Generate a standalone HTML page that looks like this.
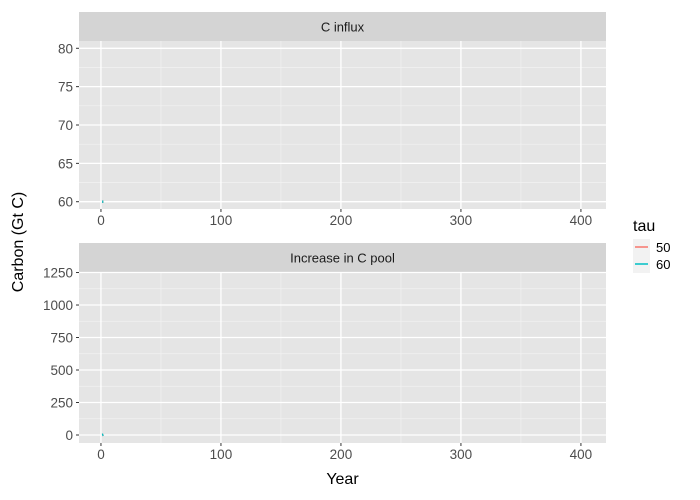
<!DOCTYPE html>
<html><head><meta charset="utf-8"><style>
body{margin:0;background:#fff;}
svg{display:block;font-family:"Liberation Sans",Arial,sans-serif;}
</style></head><body>
<svg id="chart" width="700" height="500"></svg>
<script>
const years=[1,2];
const influxTau50=[60,60];
const influxTau60=[60,60];
const poolTau50=[0,3];
const poolTau60=[0,3];
const xTicks=[0,100,200,300,400];
const yTicksTop=[60,65,70,75,80];
const yTicksBot=[0,250,500,750,1000,1250];
const seriesNames=["50","60"];
const colors=["#F8766D","#00BFC4"];

const NS="http://www.w3.org/2000/svg";
const svg=document.getElementById('chart');
function el(t,a,p){const e=document.createElementNS(NS,t);for(const k in a)e.setAttribute(k,a[k]);(p||svg).appendChild(e);return e;}
const X0=79,X1=606;
const xMin=-18.3,xMax=420.9;
const sx=v=>X0+(v-xMin)/(xMax-xMin)*(X1-X0);

const panels=[
 {title:"C influx",sy:12,top:41,bot:209,min:59.05,max:80.95,ticks:yTicksTop,series:[influxTau50,influxTau60],name:"c-influx"},
 {title:"Increase in C pool",sy:243,top:272,bot:443,min:-61.5,max:1254,ticks:yTicksBot,series:[poolTau50,poolTau60],name:"c-pool"}
];
panels.forEach(p=>{
 const g=el('g',{});
 
 
 const sy=v=>p.bot-(v-p.min)/(p.max-p.min)*(p.bot-p.top);
 const strip=el('rect',{x:X0,y:p.sy,width:X1-X0,height:p.top-p.sy,fill:'#D4D4D4'},g);
 
 
 const st=el('text',{x:(X0+X1)/2,y:(p.sy+p.top)/2+5,'text-anchor':'middle','font-size':13,fill:'#1a1a1a'},g);
 st.textContent=p.title;
 
 
 el('rect',{x:X0,y:p.top,width:X1-X0,height:p.bot-p.top,fill:'#E5E5E5'},g);
 for(let i=0;i<p.ticks.length-1;i++){const m=(p.ticks[i]+p.ticks[i+1])/2;el('line',{x1:X0,x2:X1,y1:sy(m),y2:sy(m),stroke:'#f2f2f2','stroke-width':0.7},g);}
 for(let i=0;i<xTicks.length-1;i++){const m=(xTicks[i]+xTicks[i+1])/2;el('line',{y1:p.top,y2:p.bot,x1:sx(m),x2:sx(m),stroke:'#f2f2f2','stroke-width':0.7},g);}
 p.ticks.forEach(t=>{
  el('line',{x1:X0,x2:X1,y1:sy(t),y2:sy(t),stroke:'#fff','stroke-width':1.3},g);
  el('line',{x1:X0-3,x2:X0,y1:sy(t),y2:sy(t),stroke:'#333','stroke-width':1},g);
  const tl=el('text',{x:X0-6,y:sy(t)+5,'text-anchor':'end','font-size':13.5,fill:'#4d4d4d'},g);
  tl.textContent=t;
  
  
 });
 xTicks.forEach(t=>{
  el('line',{y1:p.top,y2:p.bot,x1:sx(t),x2:sx(t),stroke:'#fff','stroke-width':1.3},g);
  el('line',{y1:p.bot,y2:p.bot+3,x1:sx(t),x2:sx(t),stroke:'#333','stroke-width':1},g);
  const tl=el('text',{x:sx(t),y:p.bot+16,'text-anchor':'middle','font-size':13.5,fill:'#4d4d4d'},g);
  tl.textContent=t;
  
  
 });
 p.series.forEach((s,si)=>{
  const d=s.map((v,i)=>(i?'L':'M')+sx(years[i])+','+sy(v)).join(' ');
  const ln=el('path',{d:d,stroke:colors[si],'stroke-width':2.5,fill:'none'},g);
  
  
 });
});
const yt=el('text',{x:0,y:0,transform:'translate(23,242) rotate(-90)','text-anchor':'middle','font-size':16,fill:'#000'});
yt.textContent='Carbon (Gt C)';


const xt=el('text',{x:(X0+X1)/2,y:484,'text-anchor':'middle','font-size':16,fill:'#000'});
xt.textContent='Year';


const lg=el('g',{});


const lt=el('text',{x:633,y:231,'font-size':16,fill:'#000'},lg);
lt.textContent='tau';
seriesNames.forEach((n,i)=>{
 const y=247+i*17;
 el('rect',{x:633,y:y-8,width:17,height:17,fill:'#F2F2F2'},lg);
 el('line',{x1:635,x2:648,y1:y,y2:y,stroke:colors[i],'stroke-width':1.5},lg);
 const t=el('text',{x:656,y:y+5,'font-size':13,fill:'#000'},lg);
 t.textContent=n;
 
 
});
</script>
</body></html>
